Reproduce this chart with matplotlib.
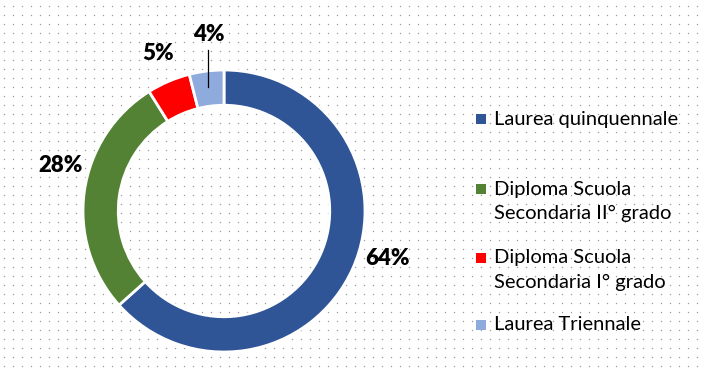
import matplotlib
matplotlib.use("Agg")
import matplotlib.pyplot as plt
import numpy as np

categories = ["Laurea quinquennale", "Diploma Scuola\nSecondaria II° grado",
              "Diploma Scuola\nSecondaria I° grado", "Laurea Triennale"]
values = [64, 28, 5, 4]
colors = ["#2F5597", "#548235", "#FF0000", "#8FAADC"]

W, H = 706, 372
fig = plt.figure(figsize=(W / 100, H / 100), dpi=100)
fig.patch.set_facecolor("white")

# dotted background
bg = fig.add_axes([0, 0, 1, 1])
bg.set_xlim(0, W)
bg.set_ylim(H, 0)
bg.axis("off")
xs = np.arange(4, W, 9)
ys = np.arange(6, H, 9)
gx, gy = np.meshgrid(xs, ys)
bg.scatter(gx.ravel(), gy.ravel(), s=1.0, c="#9A9A9A", linewidths=0)

# donut
cx, cy, r = 224, 211, 141
ax = fig.add_axes([(cx - r) / W, (H - cy - r) / H, 2 * r / W, 2 * r / H])
ax.pie(values, colors=colors, startangle=90, counterclock=False, radius=1.0,
       wedgeprops=dict(width=0.25, edgecolor="white", linewidth=2))
ax.set_xlim(-1, 1)
ax.set_ylim(-1, 1)
ax.set_aspect("equal")

font = "Lato"
label_pos = [(1.16, -0.34), (-1.16, 0.32), (-0.47, 1.12), (-0.11, 1.25)]
for v, (lx, ly) in zip(values, label_pos):
    ax.text(lx, ly, f"{v}%", ha="center", va="center", fontsize=16,
            fontweight="heavy", family=font, color="black", clip_on=False)
ax.plot([-0.11, -0.11], [1.14, 0.88], color="black", lw=0.9, clip_on=False)

# legend
leg_items = [(119, None), (189, 213), (258, 282), (325, None)]
for (y1, y2), lab, col in zip(leg_items, categories, colors):
    bg.add_patch(plt.Rectangle((476, y1 - 5), 10, 10, color=col, lw=0))
    lines = lab.split("\n")
    bg.text(494, y1, lines[0], ha="left", va="center", fontsize=14.5,
            family=font, color="black")
    if len(lines) > 1:
        bg.text(494, y2, lines[1], ha="left", va="center", fontsize=14.5,
                family=font, color="black")

fig.savefig("out.png", dpi=100, facecolor="white")
